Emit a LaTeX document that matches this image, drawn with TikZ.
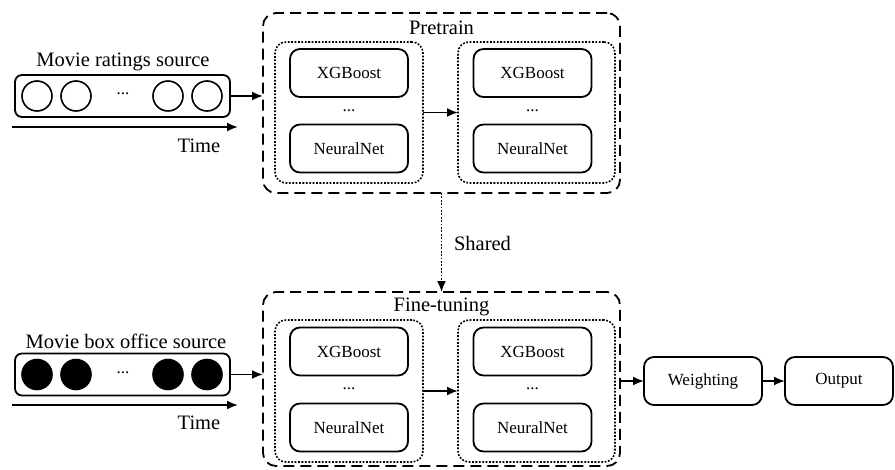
\documentclass[tikz,border=0pt]{standalone}
\usepackage{fontspec}
\setmainfont{Liberation Serif}
\usetikzlibrary{arrows.meta}
\begin{document}
\begin{tikzpicture}[x=1pt,y=-1pt,
  every node/.style={inner sep=0pt, outer sep=0pt},
  model/.style={draw, line width=1.8pt, rounded corners=10pt, minimum width=118pt, minimum height=48pt, font=\fontsize{17}{20}\selectfont},
  group/.style={draw, line width=1.6pt, dash pattern=on 1.8pt off 1.6pt, rounded corners=11pt},
  stage/.style={draw, line width=1.8pt, dash pattern=on 11pt off 6pt, rounded corners=13pt},
  srcbox/.style={draw, line width=1.8pt, rounded corners=7pt, minimum width=215pt, minimum height=42pt},
  ring/.style={circle, draw, line width=1.6pt, minimum size=30pt},
  blob/.style={circle, draw, fill=black, line width=1.6pt, minimum size=30pt},
  title/.style={font=\fontsize{20.5}{24}\selectfont},
  small/.style={font=\fontsize{17}{20}\selectfont},
  arr/.style={line width=1.8pt, -{Latex[length=11pt,width=9pt]}},
  darr/.style={line width=1.6pt, dash pattern=on 1.8pt off 1.6pt, -{Latex[length=11pt,width=9pt]}}
]
\useasboundingbox (0,0) rectangle (895,469);

% ---------- top source ----------
\node[title] (t1) at (123,62) {Movie ratings source};
\node[srcbox] (src1) at (122.5,96) {};
\node[ring] (c11) at (37,96) {};
\node[ring] (c12) at (76,96) {};
\node[small] (d1) at (123,94) {...};
\node[ring] (c13) at (168,96) {};
\node[ring] (c14) at (207,96) {};
\coordinate (ts1) at (12,127);
\coordinate (te1) at (238,127);
\draw[arr] (ts1) -- (te1);
\node[title] (time1) at (199,146) {Time};

% ---------- Pretrain ----------
\node[stage, minimum width=357pt, minimum height=180pt] (pre) at (441.5,103) {};
\node[title] (pret) at (441.5,28) {Pretrain};
\node[group, minimum width=148pt, minimum height=141pt] (p1) at (349,112.5) {};
\node[group, minimum width=157pt, minimum height=141pt] (p2) at (536.5,112.5) {};
\node[model] (xg1) at (349,73) {XGBoost};
\node[small] (pd1) at (349,111) {...};
\node[model] (nn1) at (349,148.5) {NeuralNet};
\node[model] (xg2) at (532.5,73) {XGBoost};
\node[small] (pd2) at (532.5,111) {...};
\node[model] (nn2) at (532.5,148.5) {NeuralNet};

\draw[arr] (src1.east) -- (pre.west |- src1.east);
\draw[arr] (p1.east) -- (p2.west);

% ---------- Shared ----------
\node[stage, minimum width=357pt, minimum height=174pt] (fine) at (441.5,379) {};
\draw[darr] (pre.south) -- (fine.north);
\node[title, anchor=west] (sh) at (454,243) {Shared};

% ---------- Fine-tuning ----------
\node[title] (finet) at (441.5,307) {Fine-tuning};
\node[group, minimum width=148pt, minimum height=142pt] (f1) at (349,391) {};
\node[group, minimum width=157pt, minimum height=142pt] (f2) at (536.5,391) {};
\node[model] (xg3) at (349,351.5) {XGBoost};
\node[small] (fd1) at (349,389) {...};
\node[model] (nn3) at (349,427.5) {NeuralNet};
\node[model] (xg4) at (532.5,351.5) {XGBoost};
\node[small] (fd2) at (532.5,389) {...};
\node[model] (nn4) at (532.5,427.5) {NeuralNet};
\draw[arr] (f1.east) -- (f2.west);

% ---------- bottom source ----------
\node[title] (t2) at (126,341) {Movie box office source};
\node[srcbox] (src2) at (122.5,374.5) {};
\node[blob] (c21) at (37,374.5) {};
\node[blob] (c22) at (76,374.5) {};
\node[small] (d2) at (123,373) {...};
\node[blob] (c23) at (168,374.5) {};
\node[blob] (c24) at (207,374.5) {};
\coordinate (ts2) at (12,405);
\coordinate (te2) at (238,405);
\draw[arr] (ts2) -- (te2);
\node[title] (time2) at (199,423) {Time};

\draw[arr] (src2.east) -- (fine.west |- src2.east);

% ---------- output ----------
\node[model] (w) at (703,381) {Weighting};
\node[model, minimum width=108pt] (out) at (839,381) {Output};
\draw[arr] (fine.east |- w.west) -- (w.west);
\draw[arr] (w.east) -- (out.west);
\end{tikzpicture}
\end{document}
